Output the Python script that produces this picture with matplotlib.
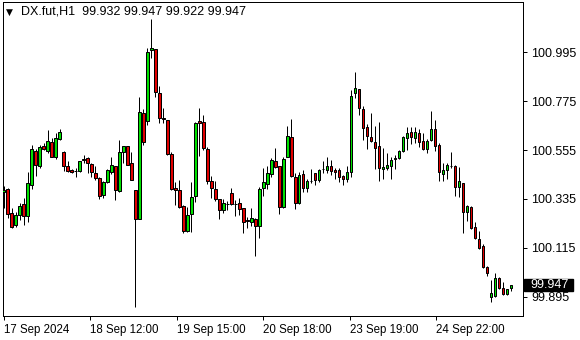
import matplotlib
import numpy as np

matplotlib.use("Agg")
import matplotlib.pyplot as plt  # noqa: E402
from matplotlib.patches import Rectangle  # noqa: E402

symbol = "DX.fut,H1"

# hourly bars (open, high, low, close)
opens = [
    100.366, 100.380, 100.272, 100.218, 100.263, 100.312, 100.258, 100.398, 100.551, 100.483,
    100.573, 100.551, 100.591, 100.524, 100.605, 100.546, 100.483, 100.465, 100.461, 100.461,
    100.510, 100.519, 100.492, 100.452, 100.429, 100.353, 100.411, 100.456, 100.483, 100.371,
    100.546, 100.573, 100.497, 100.375, 100.245, 100.722, 100.686, 101.005, 101.010, 100.812,
    100.699, 100.690, 100.537, 100.384, 100.375, 100.303, 100.191, 100.267, 100.348, 100.686,
    100.681, 100.560, 100.416, 100.380, 100.335, 100.285, 100.312, 100.362, 100.312, 100.317,
    100.294, 100.240, 100.231, 100.245, 100.213, 100.384, 100.402, 100.447, 100.506, 100.483,
    100.299, 100.524, 100.614, 100.434, 100.317, 100.447, 100.384, 100.416, 100.452, 100.420,
    100.470, 100.465, 100.483, 100.465, 100.465, 100.438, 100.425, 100.456, 100.812, 100.830,
    100.740, 100.659, 100.614, 100.591, 100.573, 100.470, 100.474, 100.483, 100.515, 100.519,
    100.551, 100.609, 100.636, 100.609, 100.632, 100.596, 100.560, 100.600, 100.650, 100.578,
    100.447, 100.465, 100.483, 100.483, 100.389, 100.407, 100.276, 100.299, 100.209, 100.155,
    100.123, 100.029, 99.894, 99.898, 99.979, 99.934, 99.907, 99.932,
]
highs = [
    100.393, 100.384, 100.294, 100.276, 100.317, 100.339, 100.456, 100.578, 100.560, 100.578,
    100.587, 100.645, 100.609, 100.632, 100.650, 100.551, 100.506, 100.470, 100.474, 100.506,
    100.533, 100.524, 100.497, 100.483, 100.434, 100.416, 100.470, 100.524, 100.483, 100.600,
    100.573, 100.573, 100.546, 100.375, 100.794, 100.740, 101.014, 101.145, 101.010, 100.843,
    100.744, 100.690, 100.546, 100.411, 100.420, 100.308, 100.299, 100.411, 100.681, 100.744,
    100.713, 100.569, 100.438, 100.416, 100.335, 100.335, 100.326, 100.384, 100.330, 100.339,
    100.294, 100.254, 100.294, 100.249, 100.389, 100.474, 100.483, 100.519, 100.564, 100.483,
    100.524, 100.663, 100.695, 100.452, 100.456, 100.465, 100.425, 100.470, 100.452, 100.470,
    100.506, 100.524, 100.510, 100.474, 100.474, 100.443, 100.483, 100.825, 100.906, 100.830,
    100.753, 100.672, 100.722, 100.663, 100.681, 100.564, 100.542, 100.524, 100.533, 100.555,
    100.618, 100.659, 100.659, 100.659, 100.650, 100.632, 100.605, 100.731, 100.690, 100.587,
    100.497, 100.497, 100.546, 100.488, 100.479, 100.407, 100.308, 100.303, 100.231, 100.191,
    100.132, 100.033, 99.970, 100.002, 99.984, 99.961, 99.930, 99.947,
]
lows = [
    100.294, 100.249, 100.204, 100.209, 100.240, 100.218, 100.231, 100.380, 100.438, 100.474,
    100.555, 100.542, 100.524, 100.515, 100.600, 100.461, 100.456, 100.452, 100.434, 100.456,
    100.497, 100.452, 100.434, 100.420, 100.335, 100.339, 100.407, 100.447, 100.330, 100.366,
    100.497, 100.488, 100.420, 99.849, 100.245, 100.578, 100.668, 100.969, 100.794, 100.677,
    100.677, 100.533, 100.375, 100.308, 100.294, 100.182, 100.186, 100.186, 100.321, 100.528,
    100.555, 100.402, 100.339, 100.326, 100.245, 100.272, 100.285, 100.308, 100.258, 100.263,
    100.182, 100.204, 100.213, 100.078, 100.159, 100.348, 100.380, 100.434, 100.474, 100.267,
    100.294, 100.524, 100.434, 100.290, 100.312, 100.366, 100.366, 100.407, 100.398, 100.411,
    100.452, 100.452, 100.443, 100.425, 100.411, 100.398, 100.411, 100.434, 100.789, 100.713,
    100.600, 100.560, 100.591, 100.470, 100.416, 100.425, 100.465, 100.425, 100.470, 100.515,
    100.546, 100.555, 100.582, 100.587, 100.569, 100.555, 100.542, 100.596, 100.551, 100.416,
    100.416, 100.425, 100.474, 100.348, 100.344, 100.182, 100.236, 100.200, 100.155, 100.110,
    100.024, 99.988, 99.871, 99.894, 99.930, 99.903, 99.903, 99.922,
]
closes = [
    100.375, 100.267, 100.209, 100.263, 100.303, 100.258, 100.407, 100.560, 100.488, 100.569,
    100.560, 100.596, 100.524, 100.609, 100.636, 100.483, 100.461, 100.456, 100.461, 100.506,
    100.515, 100.497, 100.456, 100.429, 100.348, 100.411, 100.465, 100.488, 100.375, 100.546,
    100.573, 100.488, 100.420, 100.245, 100.726, 100.591, 100.996, 101.014, 100.816, 100.699,
    100.695, 100.537, 100.380, 100.375, 100.299, 100.191, 100.263, 100.344, 100.677, 100.677,
    100.564, 100.416, 100.384, 100.335, 100.285, 100.317, 100.312, 100.312, 100.312, 100.290,
    100.231, 100.236, 100.249, 100.213, 100.380, 100.411, 100.452, 100.510, 100.479, 100.299,
    100.515, 100.618, 100.438, 100.317, 100.443, 100.384, 100.416, 100.416, 100.420, 100.465,
    100.470, 100.483, 100.461, 100.456, 100.434, 100.425, 100.456, 100.798, 100.834, 100.744,
    100.654, 100.618, 100.596, 100.564, 100.474, 100.479, 100.488, 100.510, 100.519, 100.551,
    100.614, 100.632, 100.614, 100.636, 100.591, 100.560, 100.596, 100.650, 100.573, 100.456,
    100.465, 100.488, 100.483, 100.389, 100.416, 100.276, 100.303, 100.204, 100.159, 100.114,
    100.029, 100.002, 99.912, 99.979, 99.934, 99.907, 99.930, 99.947,
]

price_ticks = [100.995, 100.775, 100.555, 100.335, 100.115, 99.895]
time_labels = ["17 Sep 2024", "18 Sep 12:00", "19 Sep 15:00", "20 Sep 18:00",
               "23 Sep 19:00", "24 Sep 22:00"]

o, h, l, c = (np.array(a) for a in (opens, highs, lows, closes))
idx = np.arange(len(o))
up = c >= o

plt.rcParams["font.family"] = ["Liberation Sans", "DejaVu Sans"]
fig = plt.figure(figsize=(5.8, 3.4), dpi=100)
ax = fig.add_axes([3 / 580, 24 / 340, 520 / 580, 314 / 340])

px = 0.72  # one pixel in points
ax.vlines(idx, l, h, color="black", lw=px, zorder=2)
body_lo = np.minimum(o, c)
body_h = np.abs(c - o)
ax.bar(idx[up], body_h[up], bottom=body_lo[up], width=0.62, color="#00e000",
       edgecolor="black", lw=px, zorder=3)
ax.bar(idx[~up], body_h[~up], bottom=body_lo[~up], width=0.62, color="#e00000",
       edgecolor="black", lw=px, zorder=3)

ax.set_xlim(-0.15, 130)
ax.set_ylim(99.808, 101.221)

ax.yaxis.tick_right()
ax.set_yticks(price_ticks)
ax.set_yticklabels([f"{v:.3f}" for v in price_ticks])
ax.set_xticks(np.arange(len(time_labels)) * 21.67)
ax.set_xticklabels(time_labels)
for t in ax.get_xticklabels():
    t.set_ha("left")
ax.tick_params(axis="y", direction="out", length=3, width=px, labelsize=9,
               colors="black", pad=3)
ax.tick_params(axis="x", direction="out", length=3, width=px, labelsize=8.3,
               colors="black", pad=3)
for s in ax.spines.values():
    s.set_linewidth(px)
    s.set_color("black")

# current price tag
yspan = ax.get_ylim()[1] - ax.get_ylim()[0]
tag_h = yspan * 12 / 314
ax.add_patch(Rectangle((1.002, c[-1] - tag_h / 2), 49 / 520, tag_h,
                       transform=ax.get_yaxis_transform(), clip_on=False,
                       fc="black", ec="black", zorder=5))
ax.text(1.0 + 7 / 520, c[-1], f"{c[-1]:.3f}", transform=ax.get_yaxis_transform(),
        ha="left", va="center", color="white", fontsize=9, zorder=6)

fig.text(9 / 580, 1 - 12 / 340, "\u25bc", fontsize=6.5, ha="center", va="center",
         family="DejaVu Sans")
fig.text(21 / 580, 1 - 12 / 340,
         f"{symbol}  {o[-1]:.3f} {h[-1]:.3f} {l[-1]:.3f} {c[-1]:.3f}",
         fontsize=9, ha="left", va="center")

fig.savefig("out.png", dpi=100, facecolor="white")
